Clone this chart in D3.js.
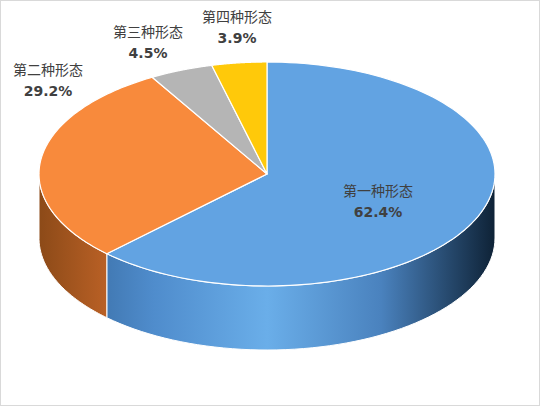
<!DOCTYPE html>
<html><head><meta charset="utf-8">
<script src="https://cdn.jsdelivr.net/npm/d3@7/dist/d3.min.js"></script>
<style>body{margin:0;background:#fff}</style></head>
<body><svg width="540" height="406"></svg>
<script>
const categories=["第一种形态","第二种形态","第三种形态","第四种形态"];
const values=[62.4,29.2,4.5,3.9];
const colors=["#62A3E2","#F88A3C","#B5B5B5","#FFC90A"];
const labelPos=[[378,196],[48,75],[148,37],[237,22]];

const svg=d3.select("svg");
svg.append("rect").attr("x",0.5).attr("y",0.5).attr("width",539).attr("height",405).attr("fill","#fff").attr("stroke","#d9d9d9");
const cx=267,cy=174,rx=228,ry=112,depth=64;
const pie=d3.pie().sort(null).value(d=>d)(values);
const pt=(a,dy=0)=>[cx+rx*Math.sin(a),cy-ry*Math.cos(a)+dy];
const defs=svg.append("defs");
function grad(id,stops){const g=defs.append("linearGradient").attr("id",id).attr("gradientUnits","userSpaceOnUse").attr("x1",cx-rx).attr("x2",cx+rx).attr("y1",0).attr("y2",0);
stops.forEach(s=>g.append("stop").attr("offset",s[0]).attr("stop-color",s[1]));}
grad("gb",[[0,"#2f5f91"],[0.25,"#4f8ccc"],[0.5,"#6aaee9"],[0.75,"#4a82be"],[1,"#0e2236"]]);
grad("go",[[0,"#8c4a18"],[0.2,"#c9682a"],[0.45,"#e8782f"],[1,"#e8782f"]]);
const sideFill=["url(#gb)","url(#go)","#888","#c90"];
const line=d3.line();
// sides
pie.forEach((p,i)=>{
  const a1=Math.max(p.startAngle,Math.PI/2),a2=Math.min(p.endAngle,3*Math.PI/2);
  if(a2<=a1)return;
  const n=60,top=[],bot=[];
  for(let k=0;k<=n;k++){const a=a1+(a2-a1)*k/n;top.push(pt(a));bot.push(pt(a,depth));}
  svg.append("path").attr("d",line(top.concat(bot.reverse()))+"Z").attr("fill",sideFill[i]).attr("stroke","#fff").attr("stroke-width",1);
});
// tops
pie.forEach((p,i)=>{
  const n=120,pts=[[cx,cy]];
  for(let k=0;k<=n;k++){pts.push(pt(p.startAngle+(p.endAngle-p.startAngle)*k/n));}
  svg.append("path").attr("d",line(pts)+"Z").attr("fill",colors[i]).attr("stroke","#fff").attr("stroke-width",1.2).attr("stroke-linejoin","round");
});
// labels
pie.forEach((p,i)=>{
  const t=svg.append("text").attr("x",labelPos[i][0]).attr("y",labelPos[i][1]).attr("text-anchor","middle")
   .attr("font-family","Noto Sans CJK SC, DejaVu Sans").attr("font-size",14).attr("fill","#404040");
  t.append("tspan").attr("x",labelPos[i][0]).attr("dy",0).text(categories[i]);
  t.append("tspan").attr("x",labelPos[i][0]).attr("dy",21).attr("font-weight","bold").attr("font-family","DejaVu Sans").text(values[i].toFixed(1)+"%");
});
</script></body></html>
